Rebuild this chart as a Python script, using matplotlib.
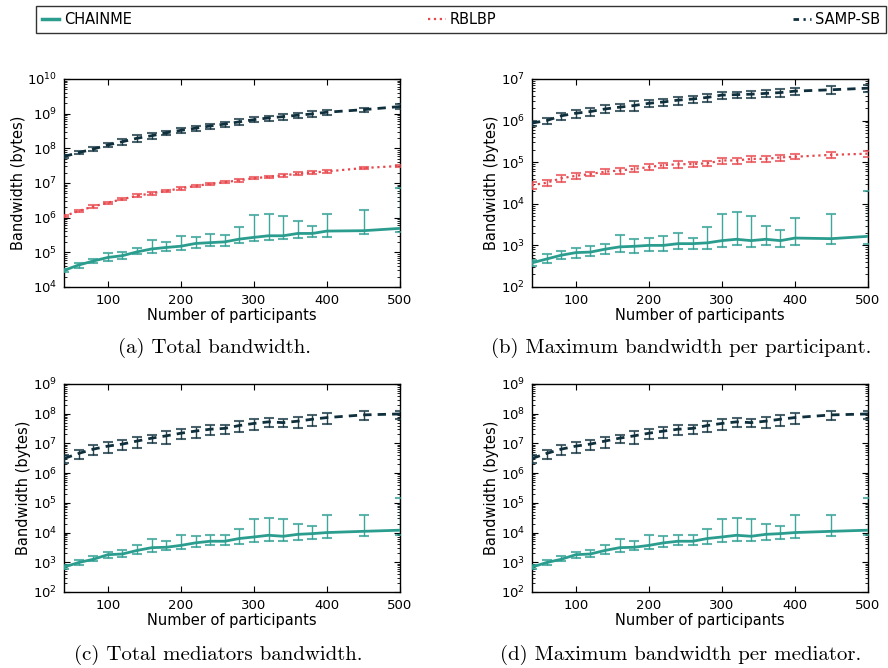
import matplotlib
matplotlib.use("Agg")
import matplotlib.pyplot as plt
import numpy as np
from matplotlib.lines import Line2D

# ---------------- data ----------------
participants = [40, 60, 80, 100, 120, 140, 160, 180, 200, 220, 240, 260,
                280, 300, 320, 340, 360, 380, 400, 450, 500]

series_names = ["CHAINME", "RBLBP", "SAMP-SB"]
x_label = "Number of participants"
y_label = "Bandwidth (bytes)"
captions = ["(a) Total bandwidth.", "(b) Maximum bandwidth per participant.",
            "(c) Total mediators bandwidth.", "(d) Maximum bandwidth per mediator."]

# (a) total bandwidth
a_chainme = [3.0e4, 4.3e4, 5.6e4, 7.1e4, 8.0e4, 1.03e5, 1.25e5, 1.38e5, 1.5e5, 1.8e5, 1.9e5,
             2.0e5, 2.4e5, 2.7e5, 3.0e5, 3.0e5, 3.5e5, 3.5e5, 4.1e5, 4.2e5, 4.9e5]
a_chainme_lo = [2.7e4, 3.6e4, 4.8e4, 5.6e4, 6.6e4, 9.0e4, 9.6e4, 1.1e5, 1.2e5, 1.3e5, 1.5e5,
                1.5e5, 1.8e5, 2.1e5, 2.2e5, 2.4e5, 2.6e5, 2.8e5, 2.8e5, 3.4e5, 3.8e5]
a_chainme_hi = [3.4e4, 4.8e4, 6.6e4, 9.4e4, 1.0e5, 1.3e5, 2.2e5, 2.0e5, 3.0e5, 2.7e5, 3.3e5,
                3.1e5, 5.2e5, 1.2e6, 1.3e6, 1.1e6, 8.0e5, 5.8e5, 1.3e6, 1.7e6, 7.0e6]
a_rblbp = [1.1e6, 1.55e6, 2.1e6, 2.7e6, 3.4e6, 4.3e6, 5.0e6, 5.9e6, 7.0e6, 8.2e6, 9.4e6,
           1.05e7, 1.2e7, 1.37e7, 1.5e7, 1.65e7, 1.85e7, 2.0e7, 2.15e7, 2.7e7, 3.1e7]
a_rblbp_err = [0.08, 0.07, 0.08, 0.07, 0.08, 0.09, 0.08, 0.07, 0.08, 0.07, 0.08,
               0.07, 0.09, 0.08, 0.07, 0.08, 0.09, 0.08, 0.08, 0.08, 0.08]
a_samp = [5.8e7, 7.5e7, 9.5e7, 1.25e8, 1.55e8, 1.95e8, 2.3e8, 2.8e8, 3.3e8, 3.8e8, 4.4e8,
          5.0e8, 5.8e8, 6.7e8, 7.5e8, 8.2e8, 9.0e8, 9.8e8, 1.1e9, 1.3e9, 1.6e9]
a_samp_err = [0.12, 0.10, 0.12, 0.15, 0.18, 0.20, 0.17, 0.16, 0.15, 0.18, 0.17,
              0.15, 0.18, 0.16, 0.17, 0.18, 0.16, 0.20, 0.18, 0.15, 0.15]

# (b) maximum bandwidth per participant
b_chainme = [3.8e2, 4.7e2, 5.8e2, 6.7e2, 6.9e2, 8.1e2, 9.2e2, 9.5e2, 1.0e3, 1.0e3, 1.1e3,
             1.1e3, 1.15e3, 1.3e3, 1.4e3, 1.3e3, 1.4e3, 1.3e3, 1.5e3, 1.45e3, 1.65e3]
b_chainme_lo = [3.2e2, 3.7e2, 4.6e2, 5.1e2, 5.5e2, 6.1e2, 7.0e2, 6.7e2, 7.3e2, 7.5e2, 8.3e2,
                8.3e2, 8.3e2, 9.3e2, 1.0e3, 9.3e2, 1.0e3, 9.3e2, 1.0e3, 1.1e3, 1.1e3]
b_chainme_hi = [4.5e2, 6.1e2, 7.2e2, 8.6e2, 9.8e2, 1.1e3, 1.8e3, 1.4e3, 1.5e3, 1.65e3, 2.0e3,
                1.5e3, 2.8e3, 5.8e3, 6.2e3, 5.1e3, 3.0e3, 2.4e3, 4.5e3, 5.6e3, 2.0e4]
b_rblbp = [2.8e4, 3.2e4, 4.1e4, 4.7e4, 5.2e4, 5.9e4, 6.3e4, 6.9e4, 7.6e4, 8.5e4, 8.9e4,
           9.0e4, 9.4e4, 1.1e5, 1.1e5, 1.2e5, 1.2e5, 1.3e5, 1.35e5, 1.5e5, 1.6e5]
b_rblbp_err = [0.18, 0.16, 0.18, 0.17, 0.12, 0.14, 0.17, 0.18, 0.16, 0.15, 0.17,
               0.15, 0.13, 0.16, 0.16, 0.15, 0.16, 0.17, 0.14, 0.16, 0.15]
b_samp = [8.7e5, 1.0e6, 1.3e6, 1.5e6, 1.65e6, 1.9e6, 2.1e6, 2.3e6, 2.6e6, 2.8e6, 3.1e6,
          3.3e6, 3.6e6, 4.1e6, 4.2e6, 4.3e6, 4.5e6, 4.7e6, 5.1e6, 5.5e6, 6.0e6]
b_samp_err = [0.15, 0.18, 0.20, 0.22, 0.20, 0.22, 0.20, 0.25, 0.20, 0.20, 0.22,
              0.20, 0.22, 0.20, 0.18, 0.20, 0.18, 0.20, 0.20, 0.22, 0.20]

# (c) total mediators bandwidth
c_chainme = [6.9e2, 9.8e2, 1.26e3, 1.8e3, 1.9e3, 2.5e3, 3.1e3, 3.2e3, 3.7e3, 4.5e3, 5.1e3,
             5.1e3, 6.3e3, 7.1e3, 8.1e3, 7.5e3, 8.7e3, 9.2e3, 1.0e4, 1.1e4, 1.2e4]
c_chainme_lo = [6.0e2, 8.4e2, 1.1e3, 1.4e3, 1.5e3, 1.9e3, 2.3e3, 2.5e3, 2.8e3, 3.2e3, 3.7e3,
                3.7e3, 4.2e3, 4.8e3, 5.2e3, 5.2e3, 5.8e3, 6.3e3, 6.6e3, 7.8e3, 8.5e3]
c_chainme_hi = [8.0e2, 1.2e3, 1.6e3, 2.3e3, 2.5e3, 3.7e3, 5.9e3, 5.2e3, 8.1e3, 7.7e3, 8.5e3,
                8.5e3, 1.3e4, 2.8e4, 3.1e4, 2.9e4, 1.9e4, 1.7e4, 3.8e4, 4.0e4, 1.4e5]
c_samp = [3.1e6, 4.6e6, 6.4e6, 8.1e6, 9.5e6, 1.2e7, 1.5e7, 1.8e7, 2.2e7, 2.6e7, 3.0e7,
          3.2e7, 4.0e7, 4.7e7, 5.3e7, 5.0e7, 5.6e7, 6.5e7, 7.4e7, 9.1e7, 9.8e7]
c_samp_err = [0.30, 0.35, 0.38, 0.40, 0.38, 0.40, 0.30, 0.45, 0.35, 0.40, 0.38,
              0.35, 0.40, 0.38, 0.35, 0.30, 0.40, 0.42, 0.40, 0.35, 0.30]

# (d) maximum bandwidth per mediator
d_chainme = c_chainme
d_chainme_lo = c_chainme_lo
d_chainme_hi = c_chainme_hi
d_samp = c_samp
d_samp_err = c_samp_err

# ---------------- style ----------------
TEAL = "#2a9d8f"
RED = "#e8474c"
DARK = "#0e2f3b"

plt.rcParams["font.family"] = ["DejaVu Sans"]
plt.rcParams["mathtext.fontset"] = "dejavusans"

fig = plt.figure(figsize=(8.88, 6.68), dpi=100)

W = 0.3784
H = 0.3114
positions = [(0.0721, 0.5704), (0.5991, 0.5704), (0.0721, 0.1138), (0.5991, 0.1138)]
ylims = [(1e4, 1e10), (1e2, 1e7), (1e2, 1e9), (1e2, 1e9)]

x = np.array(participants)


def draw_err(ax, vals, lo, hi, color, ls, lw, dashes=None, label=None, z=3):
    vals = np.array(vals)
    yerr = np.vstack([vals - np.array(lo), np.array(hi) - vals])
    line, caps, bars = ax.errorbar(x, vals, yerr=yerr, color=color, ecolor=color,
                                   elinewidth=1.0, capsize=3.5, capthick=1.5,
                                   lw=lw, ls=ls, label=label, zorder=z)
    if dashes is not None:
        line.set_dashes(dashes)
    for c in caps:
        c.set_alpha(0.75)
    for b in bars:
        b.set_alpha(0.9)
    return line


def frac_bounds(vals, frac):
    v = np.array(vals)
    f = np.array(frac)
    return v * (1 - f), v * (1 + f)


panels = [
    dict(ch=(a_chainme, a_chainme_lo, a_chainme_hi), rb=(a_rblbp, a_rblbp_err), sa=(a_samp, a_samp_err)),
    dict(ch=(b_chainme, b_chainme_lo, b_chainme_hi), rb=(b_rblbp, b_rblbp_err), sa=(b_samp, b_samp_err)),
    dict(ch=(c_chainme, c_chainme_lo, c_chainme_hi), rb=None, sa=(c_samp, c_samp_err)),
    dict(ch=(d_chainme, d_chainme_lo, d_chainme_hi), rb=None, sa=(d_samp, d_samp_err)),
]

for i, p in enumerate(panels):
    ax = fig.add_axes([positions[i][0], positions[i][1], W, H])
    draw_err(ax, *p["ch"], color=TEAL, ls="-", lw=2.0, label=series_names[0], z=4)
    if p["rb"] is not None:
        lo, hi = frac_bounds(*p["rb"])
        draw_err(ax, p["rb"][0], lo, hi, color=RED, ls=":", lw=1.6, label=series_names[1])
    lo, hi = frac_bounds(*p["sa"])
    draw_err(ax, p["sa"][0], lo, hi, color=DARK, ls="--", lw=2.0, dashes=(3, 2.2),
             label=series_names[2])
    ax.set_yscale("log")
    ax.set_ylim(*ylims[i])
    ax.set_xlim(40, 500)
    ax.set_xticks([100, 200, 300, 400, 500])
    ax.tick_params(which="both", direction="in", top=True, right=True, labelsize=9.5)
    ax.tick_params(which="major", length=4, width=0.8)
    ax.tick_params(which="minor", length=2, width=0.6)
    ax.tick_params(axis="x", which="minor", bottom=False, top=False)
    ax.tick_params(axis="both", pad=5)
    for s in ax.spines.values():
        s.set_linewidth(1.0)
    ax.set_xlabel(x_label, fontsize=10.5, labelpad=1)
    ax.set_ylabel(y_label, fontsize=10.5, labelpad=1)

samp_handle = Line2D([], [], color=DARK, lw=2.0, ls="-")
samp_handle.set_dashes((2.0, 1.6, 0.8, 1.6))
handles = [
    Line2D([], [], color=TEAL, lw=2.5, ls="-"),
    Line2D([], [], color=RED, lw=1.6, ls=":"),
    samp_handle,
]
leg = fig.legend(handles, series_names, loc="lower left", ncol=3, mode="expand",
                 bbox_to_anchor=(36 / 888, 1 - 33 / 668, 850 / 888, 27 / 668),
                 borderaxespad=0, borderpad=0.4, fontsize=10.5, frameon=True, fancybox=False,
                 edgecolor="black", handlelength=1.2, handletextpad=0.3)
leg.get_frame().set_linewidth(1.0)

cap_pos = [(214 / 888, 1 - 348 / 668), (681 / 888, 1 - 348 / 668),
           (218 / 888, 1 - 655 / 668), (681 / 888, 1 - 655 / 668)]
for (cx, cy), txt in zip(cap_pos, captions):
    fig.text(cx, cy, txt, ha="center", va="center", fontsize=15,
             family=["cmr10", "DejaVu Serif"])

fig.savefig("out.png", dpi=100)
